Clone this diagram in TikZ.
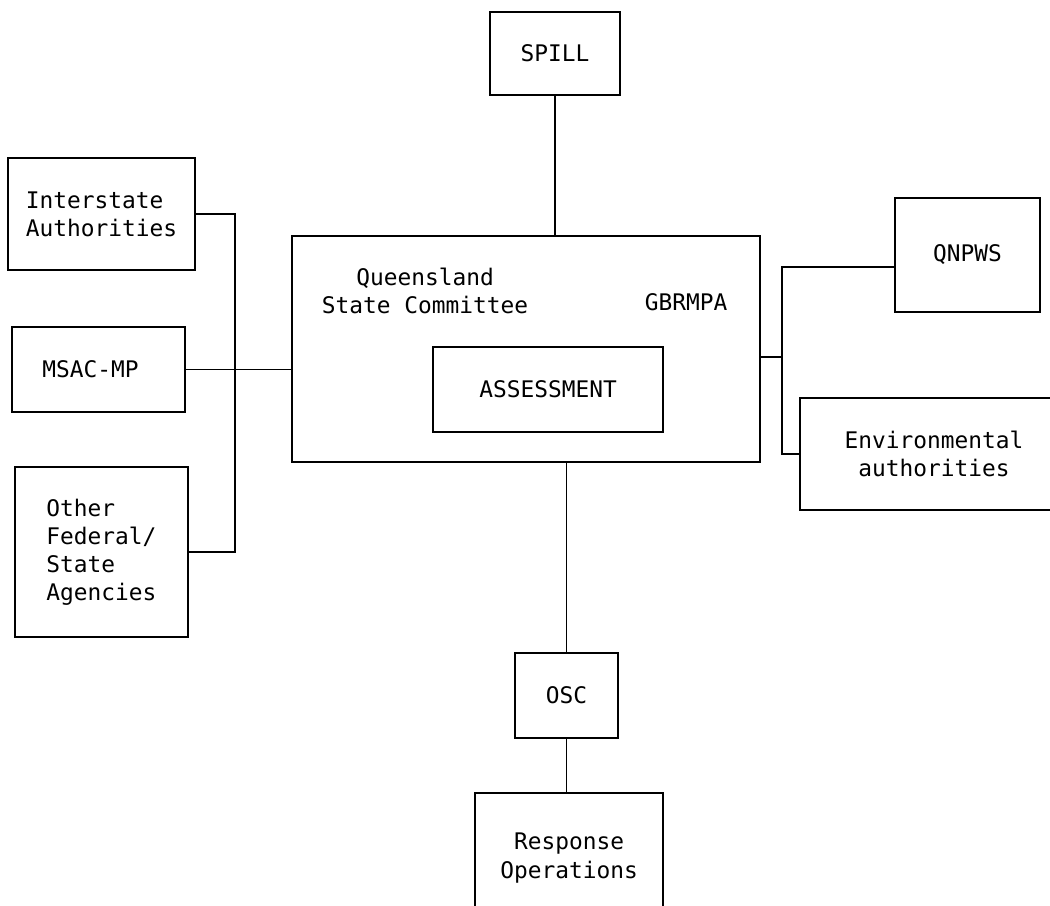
\documentclass[tikz,border=0pt]{standalone}
\usepackage{fontspec}
\setmonofont{DejaVu Sans Mono}
\usepackage{tikz}
\usetikzlibrary{positioning,calc}

\begin{document}
\begin{tikzpicture}[x=0.02cm,y=-0.02cm,box/.style={draw,thick,rectangle,inner sep=0pt,font=\ttfamily\fontsize{13}{16}\selectfont},words/.style={inner sep=0pt,font=\ttfamily\fontsize{13}{16}\selectfont},link/.style={thick}]
\useasboundingbox (0,0) rectangle (1050,905);

\node(spill)[box,minimum width=2.6cm,minimum height=1.66cm] at (555,53.5) {SPILL};
\node(main)[box,minimum width=9.36cm,minimum height=4.52cm] at (526,349) {};
\node(qsc)[words,align=center] at (425,291) {Queensland\\State Committee};
\node(gbrmpa)[words] at (686,302) {GBRMPA};
\node(assess)[box,minimum width=4.6cm,minimum height=1.7cm] at (548,389.5) {ASSESSMENT};

\node(inter)[box,align=left,minimum width=3.74cm,minimum height=2.24cm] at (101.5,214) {Interstate\\Authorities};
\node(msac)[box,minimum width=3.46cm,minimum height=1.7cm] at (98.5,369.5) {MSAC-MP\kern0.32cm};
\node(other)[box,align=left,minimum width=3.46cm,minimum height=3.4cm] at (101.5,552) {Other\\Federal/\\State\\Agencies};

\node(qnpws)[box,minimum width=2.9cm,minimum height=2.28cm] at (967.5,255) {QNPWS};
\node(env)[box,align=center,minimum width=5.36cm,minimum height=2.24cm] at (934,454) {Environmental\\authorities};

\node(osc)[box,minimum width=2.06cm,minimum height=1.7cm] at (566.5,695.5) {OSC};
\node(resp)[box,align=center,minimum width=3.76cm,minimum height=2.6cm] at (569,858) {Response\\Operations};

\coordinate(lbus) at (235,364);
\coordinate(rbus) at (782,357);

\draw [link] (spill.south) to (spill.south |- main.north);
\draw [link] (inter.east) -| (lbus) |- (other.east);
\draw [link] (msac.east) to (msac.east -| main.west);
\draw [link] (main.east |- rbus) to (rbus);
\draw [link] ([yshift=-0.24cm]qnpws.west) -| (rbus) |- (env.west);
\draw [link] (osc.north) to (osc.north |- main.south);
\draw [link] (osc.south) to (osc.south |- resp.north);
\end{tikzpicture}
\end{document}
